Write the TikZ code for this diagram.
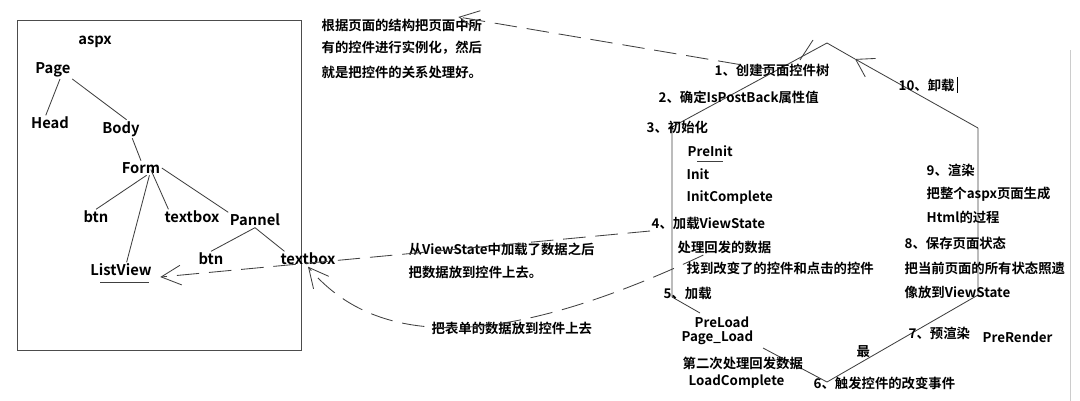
\documentclass[tikz,border=0pt]{standalone}
\usepackage{fontspec}
\setmainfont{Noto Sans CJK SC}[BoldFont={Noto Sans CJK SC Bold}]
\usetikzlibrary{arrows.meta, positioning}

\begin{document}
\begin{tikzpicture}[x=0.025cm, y=-0.025cm,
    lbl/.style={inner sep=1pt, font=\bfseries\fontsize{9.5}{11}\selectfont},
    tnode/.style={inner sep=1pt, font=\bfseries\fontsize{10.5}{12}\selectfont},
    pen/.style={line width=0.6pt, black!75},
    longdash/.style={pen, dash pattern=on 16pt off 7pt},
    barb/.style={-{Straight Barb[length=14pt, width=14pt]}}]
  \useasboundingbox (0,0) rectangle (1080,401);
  \draw[gray!40] (1070,50) -- (1070,401);

  % aspx control tree
  \draw[pen, black!70] (17,20) rectangle (301,350);
  \node[tnode] (aspx) at (95,42) {aspx};
  \node[tnode] (page) at (53,70) {Page};
  \node[tnode] (head) at (50,123) {Head};
  \node[tnode] (body) at (121,129) {Body};
  \node[tnode] (form) at (141,168) {Form};
  \node[tnode] (btn1) at (96,217) {btn};
  \node[tnode] (tb1) at (192,217) {textbox};
  \node[tnode] (pannel) at (255,220) {Pannel};
  \node[tnode] (btn2) at (211,259) {btn};
  \node[tnode] (tb2) at (308,259) {textbox};
  \node[tnode] (lv) at (121,270) {ListView};
  \draw[pen] ([xshift=5pt]page.south) -- ([xshift=-3pt]head.north);
  \draw[pen] (page.south east) -- ([xshift=4pt]body.north);
  \draw[pen] ([xshift=8pt]body.south) -- (form.north);
  \draw[pen] ([xshift=4pt]form.south) -- (btn1.north);
  \draw[pen] ([xshift=6pt]form.south) -- ([xshift=4pt]lv.north);
  \draw[pen] ([xshift=7pt,yshift=4pt]form.south) -- ([xshift=4pt]tb1.north west);
  \draw[pen] (form.east) -- (pannel.north west);
  \draw[pen] (pannel.south) -- (btn2.north);
  \draw[pen] (pannel.south) -- ([xshift=4pt]tb2.north west);
  \draw[pen] ([xshift=8pt,yshift=-3pt]lv.south west) -- ([xshift=-3pt,yshift=-3pt]lv.south east);

  % notes
  \node[lbl, anchor=west] (n1a) at (320,25) {根据页面的结构把页面中所};
  \node[lbl, anchor=west] (n1b) at (320,48) {有的控件进行实例化，然后};
  \node[lbl, anchor=west] (n1c) at (320,72) {就是把控件的关系处理好。};
  \node[lbl, anchor=west] (n2a) at (407,249) {从ViewState中加载了数据之后};
  \node[lbl, anchor=west] (n2b) at (407,272) {把数据放到控件上去。};
  \node[lbl, anchor=west] (n3) at (430,328) {把表单的数据放到控件上去};

  % page life cycle
  \coordinate (peak) at (827,43);
  \coordinate (tl) at (672,127);
  \coordinate (bl) at (672,297);
  \coordinate (g1) at (700,313);
  \coordinate (g2) at (763,348);
  \coordinate (bot) at (827,382);
  \coordinate (br) at (978,295);
  \coordinate (tr) at (978,128);
  \coordinate (mid) at (855,59);
  \draw[pen] (peak) -- (tl) -- (bl) -- (g1);
  \draw[pen] (g2) -- (bot) -- (br) -- (tr);
  \draw[pen, -{Straight Barb[length=12pt, width=15pt]}] (tr) -- (mid);
  \draw[pen] (mid) -- (peak);
  \draw[pen] (800,60) -- (813,40);

  \foreach \nm/\x/\y/\txt in {
      s1/713/70/1、创建页面控件树,
      s2/657/97/2、确定IsPostBack属性值,
      s3/645/127/3、初始化,
      pi/686/151/PreInit,
      ini/685/174/Init,
      ic/685/198/InitComplete,
      s4/650/223/4、加载ViewState,
      s4a/676/247/处理回发的数据,
      s4b/685/268/找到改变了的控件和点击的控件,
      s5/662/293/5、加载,
      pl/693/322/PreLoad,
      pgl/680/338/Page\_Load,
      s5a/681/363/第二次处理回发数据,
      lc/687/382/LoadComplete,
      s6/812/383/6、触发控件的改变事件,
      s7/907/333/7、预渲染,
      pr/981/337/PreRender,
      s7a/855/352/最,
      s8/903/243/8、保存页面状态,
      s8a/903/268/把当前页面的所有状态照遗,
      s8b/903/292/像放到ViewState,
      s9/925/170/9、渲染,
      s9a/925/194/把整个aspx页面生成,
      s9b/925/217/Html的过程,
      s10/897/85/10、卸载} {
    \node[lbl, anchor=west] (\nm) at (\x,\y) {\txt};
  }
  \draw[pen] ([xshift=8pt,yshift=-2pt]pi.south west) -- ([xshift=-8pt,yshift=-2pt]pi.south east);
  \draw[pen, black] ([xshift=1pt]s10.north east) -- ([xshift=1pt]s10.south east);

  % data flow
  \draw[longdash, barb] (s1.center) -- ([xshift=-18pt]n1a.north east);
  \draw[longdash, barb] (s4.south west) -- ([xshift=5pt,yshift=-5pt]lv.east);
  \draw[longdash, barb] ([xshift=-15pt]s4a.south) .. controls (560,322) and (395,372) .. (tb2.south);
\end{tikzpicture}
\end{document}
